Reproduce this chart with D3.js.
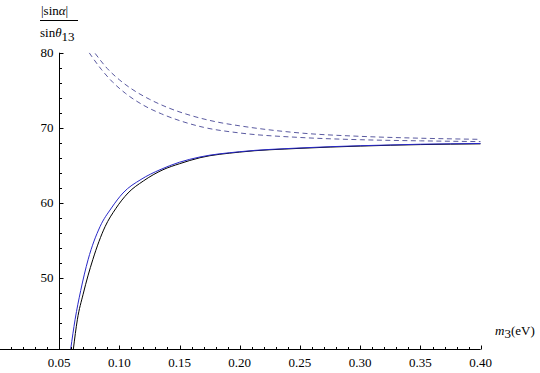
<!DOCTYPE html>
<html>
<head>
<meta charset="utf-8">
<script src="https://cdn.jsdelivr.net/npm/d3@7"></script>
<style>
  body { margin: 0; background: #fff; }
</style>
</head>
<body>
<div id="chart"></div>
<script>
// data: m3 (eV) and |sin alpha| / sin theta13
const blueM = [0.0597, 0.0633, 0.068, 0.0741, 0.084, 0.0935, 0.1031, 0.118, 0.1338, 0.15, 0.167, 0.2, 0.25, 0.3, 0.35, 0.4]
const blueV = [40.5, 44.4, 48.3, 52.4, 56.8, 59.3, 61.3, 63.1, 64.4, 65.4, 66.1, 66.8, 67.3, 67.6, 67.8, 67.9]

const blackM = [0.0619, 0.0652, 0.070, 0.078, 0.0882, 0.097, 0.1073, 0.12, 0.1363, 0.15, 0.167, 0.2, 0.25, 0.3, 0.35, 0.4]
const blackV = [40.5, 44.4, 47.8, 52.4, 56.8, 59.2, 61.3, 62.9, 64.4, 65.2, 66.0, 66.75, 67.25, 67.55, 67.75, 67.85]

const dashUpM = [0.08, 0.09, 0.10, 0.11, 0.125, 0.14, 0.16, 0.18, 0.2, 0.25, 0.3, 0.35, 0.4]
const dashUpV = [79.9, 77.9, 76.4, 75.2, 73.8, 72.7, 71.6, 70.8, 70.25, 69.3, 68.85, 68.6, 68.45]

const dashLoM = [0.075, 0.085, 0.095, 0.105, 0.12, 0.135, 0.15, 0.17, 0.2, 0.25, 0.3, 0.35, 0.4]
const dashLoV = [80.0, 77.8, 76.0, 74.6, 73.0, 71.85, 70.95, 70.05, 69.3, 68.7, 68.4, 68.25, 68.15]

const xMajor = [0.05, 0.10, 0.15, 0.20, 0.25, 0.30, 0.35, 0.40]
const yMajor = [50, 60, 70, 80]

// ----------------------------------------------------------
const width = 540
const height = 373
const serif = "'Liberation Serif', 'Times New Roman', Times, 'DejaVu Serif', serif"

const svg = d3.select("div#chart").append("svg")
  .attr("width", width).attr("height", height)
  .attr("font-family", serif)

const x = d3.scaleLinear().domain([0.001, 0.4]).range([0, 480.7])
const y = d3.scaleLinear().domain([40.5, 80]).range([349, 52.7])

// clip to plot range
svg.append("clipPath").attr("id", "clip")
  .append("rect")
  .attr("x", 0).attr("y", y(80))
  .attr("width", x(0.4)).attr("height", y(40.5) - y(80))

const zip = (ms, vs) => ms.map((m, i) => ({m: m, v: vs[i]}))
const line = d3.line().x(d => x(d.m)).y(d => y(d.v)).curve(d3.curveMonotoneX)

const curves = svg.append("g").attr("clip-path", "url(#clip)").attr("fill", "none")

curves.append("path").datum(zip(dashUpM, dashUpV))
  .attr("d", line).attr("stroke", "#5a5aa0").attr("stroke-width", 1).attr("stroke-dasharray", "5,3.5")
curves.append("path").datum(zip(dashLoM, dashLoV))
  .attr("d", line).attr("stroke", "#5a5aa0").attr("stroke-width", 1).attr("stroke-dasharray", "5,3.5")
curves.append("path").datum(zip(blackM, blackV))
  .attr("d", line).attr("stroke", "#000").attr("stroke-width", 1)
curves.append("path").datum(zip(blueM, blueV))
  .attr("d", line).attr("stroke", "#2828c8").attr("stroke-width", 1)

// axes, Mathematica style: ticks point inwards
const axisG = svg.append("g").attr("stroke", "#000").attr("stroke-width", 1)

const y0 = Math.round(y(40.5)) + 0.5
const x0 = Math.round(x(0.05)) + 0.5

axisG.append("line").attr("x1", 0).attr("x2", x(0.4)).attr("y1", y0).attr("y2", y0)
axisG.append("line").attr("x1", x0).attr("x2", x0).attr("y1", y0).attr("y2", y(80))

// x ticks
d3.range(1, 41).map(i => i / 100).forEach(t => {
  const major = Math.abs(t * 20 - Math.round(t * 20)) < 1e-6
  const px = Math.round(x(t)) + 0.5
  axisG.append("line").attr("x1", px).attr("x2", px).attr("y1", y0).attr("y2", y0 - (major ? 4 : 2.5))
})
svg.append("g").selectAll("text").data(xMajor).enter().append("text")
  .attr("x", d => x(d)).attr("y", 366.5)
  .attr("text-anchor", "middle").attr("font-size", 13)
  .text(d => d.toFixed(2))

// y ticks
d3.range(42, 81, 2).forEach(t => {
  const major = t % 10 === 0
  const py = Math.round(y(t)) + 0.5
  axisG.append("line").attr("x1", x0).attr("x2", x0 + (major ? 4 : 2.5)).attr("y1", py).attr("y2", py)
})
svg.append("g").selectAll("text").data(yMajor).enter().append("text")
  .attr("x", 53.5).attr("y", d => y(d) + 4.5)
  .attr("text-anchor", "end").attr("font-size", 13)
  .text(d => d)

// y label: |sin alpha| / sin theta13
const num = svg.append("text").attr("x", 41).attr("y", 14.5).attr("font-size", 13)
num.append("tspan").text("|sin")
num.append("tspan").attr("font-style", "italic").text("α")
num.append("tspan").text("|")
svg.append("line").attr("x1", 40).attr("x2", 78).attr("y1", 20.5).attr("y2", 20.5)
  .attr("stroke", "#000").attr("stroke-width", 1)
const den = svg.append("text").attr("x", 40).attr("y", 36.5).attr("font-size", 13)
den.append("tspan").text("sin")
den.append("tspan").attr("font-style", "italic").text("θ")
den.append("tspan").attr("dy", 4).text("13")

// x label: m3 (eV)
const xl = svg.append("text").attr("x", 495).attr("y", 334.5).attr("font-size", 13)
xl.append("tspan").attr("font-style", "italic").text("m")
xl.append("tspan").attr("dy", 3).text("3")
xl.append("tspan").attr("dy", -3).text("(eV)")
</script>
</body>
</html>
